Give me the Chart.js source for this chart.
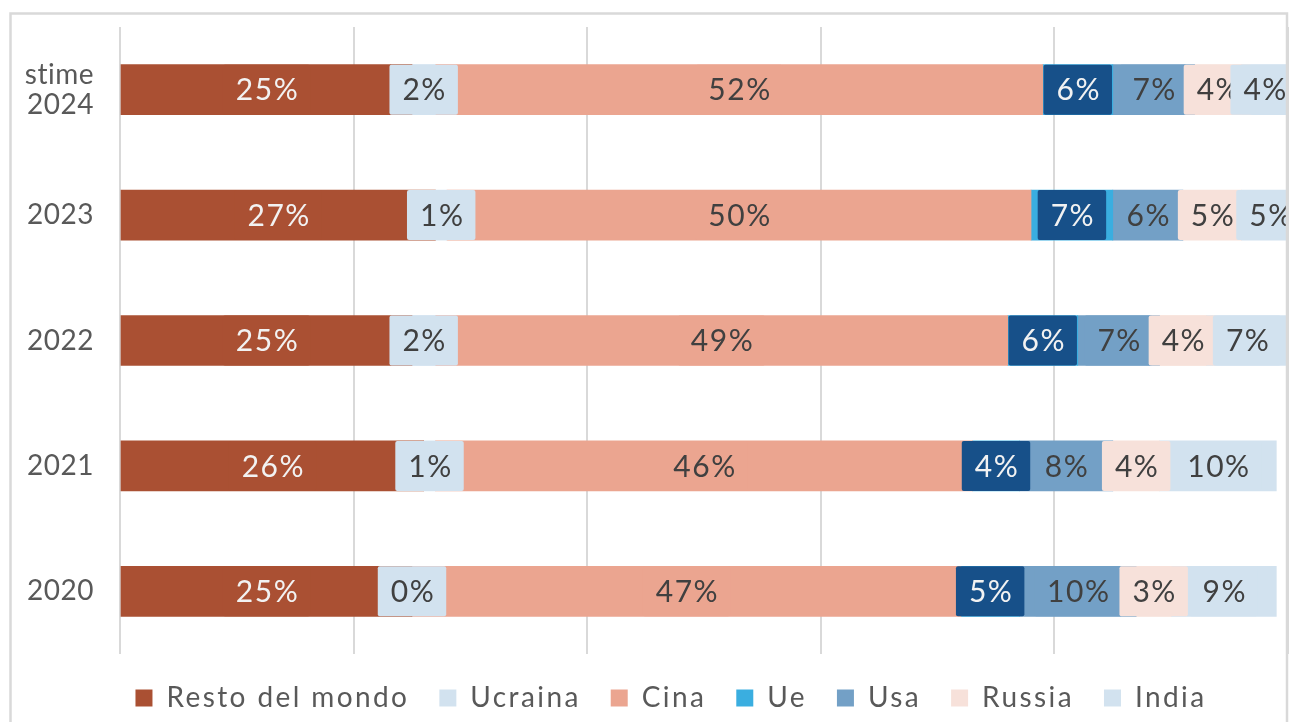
<!DOCTYPE html>
<html>
<head>
<meta charset="utf-8">
<script src="https://cdn.jsdelivr.net/npm/chart.js@4/dist/chart.umd.min.js"></script>
<style>
  html, body { margin: 0; padding: 0; background: #fff; }
  #wrap { width: 1289px; height: 722px; }
</style>
</head>
<body>
<div id="wrap"><canvas id="chart" width="1289" height="722"></canvas></div>
<script>
// quote per paese, in %
const years = [['stime', '2024'], '2023', '2022', '2021', '2020'];
const resto = [25, 27, 25, 26, 25];
const ucraina = [2, 1, 2, 1, 0];
const cina = [52, 50, 49, 46, 47];
const ue = [6, 7, 6, 4, 5];
const usa = [7, 6, 7, 8, 10];
const russia = [4, 5, 4, 4, 3];
const india = [4, 5, 7, 10, 9];
const gridSteps = [0, 20, 40, 60, 80, 100];

Chart.defaults.font.family = 'Lato, sans-serif';
Chart.defaults.color = '#595959';

// legend text is spaced out, axis labels only slightly;
// the legend row is centred a bit right of the canvas middle
const spacing = {
  id: 'spacing',
  beforeLayout(chart) { chart.ctx.letterSpacing = '2.4px'; },
  afterLayout(chart) { chart.legend.left += 54; },
  beforeDraw(chart) { chart.ctx.letterSpacing = '2.4px'; }
};

// light grey border around the whole chart
const frame = {
  id: 'frame',
  afterDraw(chart) {
    const ctx = chart.ctx;
    ctx.save();
    ctx.strokeStyle = '#D9D9D9';
    ctx.lineWidth = 2.5;
    ctx.strokeRect(10.5, 13.5, 1276.5, 760);
    ctx.restore();
  }
};

// value labels sitting on filled boxes, one series after the other
const labelBoxes = {
  id: 'labelBoxes',
  afterDatasetsDraw(chart) {
    const ctx = chart.ctx;
    const area = chart.chartArea;
    ctx.save();
    ctx.beginPath();
    ctx.rect(area.left, area.top, area.right - area.left, area.bottom - area.top);
    ctx.clip();
    ctx.font = '30px Lato, sans-serif';
    ctx.letterSpacing = '1.5px';
    ctx.textAlign = 'center';
    ctx.textBaseline = 'middle';
    chart.data.datasets.forEach((ds, i) => {
      const meta = chart.getDatasetMeta(i);
      meta.data.forEach((bar, j) => {
        const p = bar.getProps(['x', 'y', 'base', 'height'], true);
        const text = ds.data[j] + '%';
        const cx = (p.x + p.base) / 2;
        const w = ctx.measureText(text).width + 24;
        ctx.fillStyle = ds.labelFill;
        ctx.beginPath();
        ctx.roundRect(cx - w / 2, p.y - p.height / 2, w, p.height, 2);
        ctx.fill();
        ctx.fillStyle = ds.labelColor;
        ctx.fillText(text, cx + 1, p.y + 1);
      });
    });
    ctx.restore();
    // y tick labels are drawn after this (ticks.z = 1)
    ctx.letterSpacing = '0.5px';
  }
};

function serie(label, data, color, labelFill, labelColor) {
  return {
    label: label,
    data: data,
    backgroundColor: color,
    borderWidth: 0,
    barThickness: 50,
    labelFill: labelFill,
    labelColor: labelColor
  };
}

new Chart(document.getElementById('chart'), {
  type: 'bar',
  data: {
    labels: years,
    datasets: [
      serie('Resto del mondo', resto, '#AA5033', '#AA5033', '#F2F2F2'),
      serie('Ucraina', ucraina, '#D2E2EF', '#D2E2EF', '#404040'),
      serie('Cina', cina, '#EBA590', '#EBA590', '#404040'),
      serie('Ue', ue, '#3AAEE0', '#175089', '#F2F2F2'),
      serie('Usa', usa, '#73A0C6', '#73A0C6', '#404040'),
      serie('Russia', russia, '#F7E1DA', '#F7E1DA', '#404040'),
      serie('India', india, '#D2E2EF', '#D2E2EF', '#404040')
    ]
  },
  options: {
    indexAxis: 'y',
    responsive: false,
    animation: false,
    layout: { padding: { top: 27, right: 1, bottom: 0, left: 0 } },
    scales: {
      x: {
        stacked: true,
        min: 0,
        max: 100,
        afterBuildTicks(scale) { scale.ticks = gridSteps.map(v => ({ value: v })); },
        ticks: { display: false },
        grid: { color: '#D9D9D9', lineWidth: 2, drawTicks: false },
        border: { display: false }
      },
      y: {
        stacked: true,
        afterFit(scale) {
          scale.width = 120;
          scale.paddingTop = 0;
          scale.paddingBottom = 0;
        },
        ticks: {
          z: 1,
          padding: 26,
          color: '#595959',
          font: { size: 28, lineHeight: 1.07 }
        },
        grid: { display: false, drawTicks: false },
        border: { display: false }
      }
    },
    plugins: {
      tooltip: { enabled: false },
      legend: {
        position: 'bottom',
        labels: {
          boxWidth: 17,
          boxHeight: 17,
          padding: 30,
          color: '#595959',
          font: { size: 28 }
        }
      }
    }
  },
  plugins: [spacing, labelBoxes, frame]
});
</script>
</body>
</html>
